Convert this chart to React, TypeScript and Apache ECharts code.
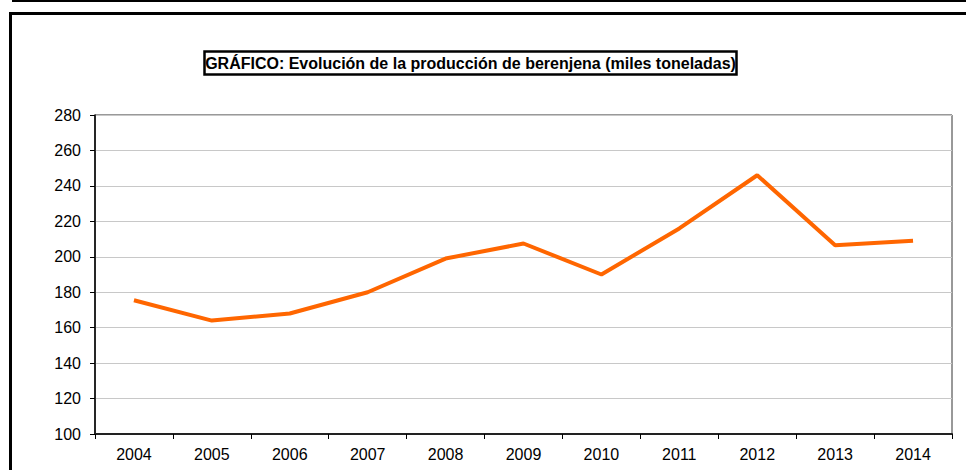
import React, { useEffect, useRef } from "react";
import * as echarts from "echarts";

const years = ["2004", "2005", "2006", "2007", "2008", "2009", "2010", "2011", "2012", "2013", "2014"];
const produccion = [175.5, 164, 168, 180, 199, 207.5, 190, 216, 246, 206.5, 209];
const titleText = "GRÁFICO: Evolución de la producción de berenjena (miles toneladas)";

export default function App() {
  const ref = useRef<HTMLDivElement>(null);
  useEffect(() => {
    if (!ref.current) return;
    const chart = echarts.init(ref.current, null, { renderer: "svg" });
    chart.setOption({
      animation: false,
      backgroundColor: "#ffffff",
      textStyle: { fontFamily: "Liberation Sans, Arial, sans-serif" },
      grid: { left: 95, top: 115, right: 14, bottom: 36, show: true, borderColor: "#333", borderWidth: 1 },
      xAxis: {
        type: "category",
        data: years,
        boundaryGap: true,
        axisLine: { lineStyle: { color: "#222", width: 2 } },
        axisTick: { show: true, length: 5, inside: false, alignWithLabel: false, lineStyle: { color: "#000" } },
        axisLabel: { color: "#000", fontSize: 16, margin: 12, fontFamily: "Liberation Sans, Arial, sans-serif" },
        splitLine: { show: false },
      },
      yAxis: {
        type: "value",
        min: 100,
        max: 280,
        interval: 20,
        axisLine: { show: true, lineStyle: { color: "#000", width: 1.5 } },
        axisTick: { show: true, length: 5, lineStyle: { color: "#000" } },
        axisLabel: { color: "#000", fontSize: 16, margin: 14, fontFamily: "Liberation Sans, Arial, sans-serif" },
        splitLine: { show: true, lineStyle: { color: "#c8c8c8", width: 1 } },
      },
      series: [
        {
          type: "line",
          data: produccion,
          symbol: "none",
          lineStyle: { color: "#ff6600", width: 4 },
          itemStyle: { color: "#ff6600" },
        },
      ],
      graphic: [
        { type: "line", shape: { x1: 12, y1: 1, x2: 966, y2: 1 }, style: { stroke: "#000", lineWidth: 2 } },
        { type: "rect", shape: { x: 10.5, y: 13.5, width: 1000, height: 500 }, style: { fill: "none", stroke: "#000", lineWidth: 3 } },
        { type: "rect", shape: { x: 204.5, y: 51.5, width: 532, height: 23 }, style: { fill: "#fff", stroke: "#000", lineWidth: 2.5 } },
        {
          type: "text",
          x: 470.5,
          y: 63.5,
          style: {
            text: titleText,
            fill: "#000",
            font: "bold 16px 'Liberation Sans', Arial, sans-serif",
            align: "center",
            verticalAlign: "middle",
          },
        },
      ],
    });
    return () => chart.dispose();
  }, []);
  return <div ref={ref} style={{ position: "fixed", left: 0, top: 0, width: 966, height: 470 }} />;
}
